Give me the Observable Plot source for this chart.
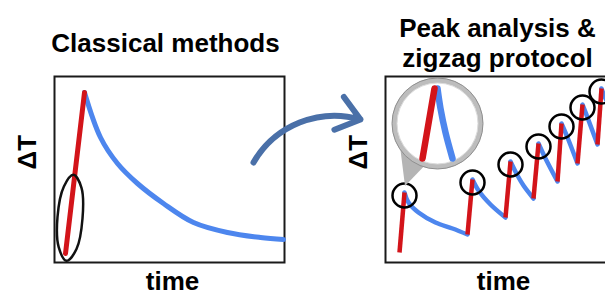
<!DOCTYPE html>
<html><head><meta charset="utf-8">
<script src="https://cdn.jsdelivr.net/npm/d3@7"></script>
<script src="https://cdn.jsdelivr.net/npm/@observablehq/plot@0.6"></script>
<style>
body{margin:0;background:#fff;}
#chart{width:605px;height:295px;overflow:hidden;}
</style></head><body><div id="chart"></div>
<script>
// ---- categories & labels ----
const panels = ["classical", "zigzag"];
const panelTitles = ["Classical methods", "Peak analysis &\nzigzag protocol"];
const xLabel = "time";
const yLabel = "ΔT";

// ---- classical panel: one heating (red) then cooling (blue) ----
const classicalHeatTime = [1.1, 3.0];
const classicalHeatDT = [0.9, 17.0];
const classicalCoolTime = [3.0, 4.6, 6.3, 8.3, 10.9, 13.9, 17.3, 20.6, 22.9];
const classicalCoolDT = [17.0, 12.5, 9.9, 7.9, 5.9, 4.0, 3.0, 2.5, 2.3];
// outline around the initial heating region
const ellipseTime = [1.9, 2.7, 2.8, 2.2, 1.2, 0.42, 0.3, 0.94];
const ellipseDT = [8.77, 7.46, 4.4, 1.35, 0.17, 1.54, 4.55, 7.6];
// curved arrow between panels
const arrowTime = [19.9, 30.6];
const arrowDT = [10.0, 14.3];

// ---- zigzag panel ----
const heatStartTime = [1.4, 8.2, 12.0, 14.8, 17.2, 19.2, 21.2];
const heatStartDT = [1.0, 2.8, 4.5, 6.4, 8.1, 9.9, 11.8];
const peakTime = [1.9, 8.7, 12.5, 15.3, 17.6, 19.7, 21.6];
const peakDT = [7.0, 8.3, 10.1, 11.9, 13.9, 15.8, 17.4];
const coolMidTime = [[2.3, 3.3, 5.0, 6.7], [9.3, 10.5], [13.2, 13.8], [16.0], [18.2], [20.2], [22.0]];
const coolMidDT = [[6.0, 5.0, 4.0, 3.4], [7.2, 5.8], [8.7, 7.7], [10.4], [12.5], [14.5], [16.4]];
const lastCoolTime = 23.4;
const lastCoolDT = 14.0;
// magnifier
const lensTime = [5.2];
const lensDT = [13.9];
const wedgeTime = [1.5, 2.0, 4.5];
const wedgeLowDT = [11.6, 7.6, 10.2];
const wedgeHighDT = [11.6, 11.37, 10.2];
const lensHeatTime = [3.7, 4.9];
const lensHeatDT = [10.4, 17.4];
const lensCoolTime = [5.2, 5.5, 6.0, 6.7];
const lensCoolDT = [17.4, 15.4, 13.0, 10.4];

// ---- styling ----
const RED = "#d3141a";
const BLUE = "#4d86ee";
const ARROW = "#4a70a8";
const FONT = "'Liberation Sans', Arial, Helvetica, sans-serif";

// ---- build tables ----
const rows = (xs, ys, extra) => xs.map((x, i) => ({x, y: ys[i], ...extra}));
const clHeat = rows(classicalHeatTime, classicalHeatDT, {fx: "classical"});
const clCool = rows(classicalCoolTime, classicalCoolDT, {fx: "classical"});
const clEllipse = rows(ellipseTime, ellipseDT, {fx: "classical"});
const arrowRow = [{fx: "classical", x1: arrowTime[0], y1: arrowDT[0], x2: arrowTime[1], y2: arrowDT[1]}];

const rises = heatStartTime.map((t, i) => ({fx: "zigzag", x1: t, y1: heatStartDT[i], x2: peakTime[i], y2: peakDT[i]}));
const decays = [];
peakTime.forEach((t, i) => {
  decays.push({fx: "zigzag", seg: i, x: t, y: peakDT[i]});
  coolMidTime[i].forEach((m, j) => decays.push({fx: "zigzag", seg: i, x: m, y: coolMidDT[i][j]}));
  const endX = i + 1 < heatStartTime.length ? heatStartTime[i + 1] : lastCoolTime;
  const endY = i + 1 < heatStartDT.length ? heatStartDT[i + 1] : lastCoolDT;
  decays.push({fx: "zigzag", seg: i, x: endX, y: endY});
});
const peaks = rows(peakTime, peakDT, {fx: "zigzag"});
const lens = rows(lensTime, lensDT, {fx: "zigzag"});
const wedge = wedgeTime.map((x, i) => ({fx: "zigzag", x, y1: wedgeLowDT[i], y2: wedgeHighDT[i]}));
const lensHeat = rows(lensHeatTime, lensHeatDT, {fx: "zigzag"});
const lensCool = rows(lensCoolTime, lensCoolDT, {fx: "zigzag"});

const textStyle = {fontFamily: FONT, fontWeight: "bold", fontSize: 26, fill: "black", text: d => d};

const chart = Plot.plot({
  width: 605,
  height: 295,
  marginLeft: 54,
  marginRight: -10,
  marginTop: 76,
  marginBottom: 33,
  style: {background: "white", overflow: "hidden", fontFamily: FONT},
  fx: {domain: panels, paddingInner: 101 / 331, paddingOuter: 0, round: false, axis: null, label: null},
  x: {domain: [0, 23], axis: null},
  y: {domain: [0, 18.6], axis: null},
  marks: [
    Plot.frame({stroke: "#1a1a1a", strokeWidth: 2}),
    // titles
    Plot.text([panelTitles[0]], {...textStyle, fx: [panels[0]], frameAnchor: "top", lineAnchor: "bottom", dy: -25, dx: -4}),
    Plot.text([panelTitles[1]], {...textStyle, fx: [panels[1]], frameAnchor: "top", lineAnchor: "bottom", dy: -10, dx: -3, lineHeight: 1.12}),
    // axis labels (repeated in every panel)
    Plot.text([xLabel], {...textStyle, frameAnchor: "bottom", lineAnchor: "bottom", dy: 27, dx: 3}),
    Plot.text([yLabel], {...textStyle, frameAnchor: "left", rotate: -90, lineAnchor: "bottom", dx: -19}),
    // classical panel
    Plot.line(clCool, {x: "x", y: "y", fx: "fx", stroke: BLUE, strokeWidth: 5, curve: "catmull-rom"}),
    Plot.line(clHeat, {x: "x", y: "y", fx: "fx", stroke: RED, strokeWidth: 5}),
    Plot.line(clEllipse, {x: "x", y: "y", fx: "fx", stroke: "#111", strokeWidth: 2.5, curve: "catmull-rom-closed"}),
    Plot.arrow(arrowRow, {x1: "x1", y1: "y1", x2: "x2", y2: "y2", fx: "fx", bend: 38, stroke: ARROW, strokeWidth: 6, headLength: 7, headAngle: 75}),
    // zigzag panel
    Plot.line(decays, {x: "x", y: "y", z: "seg", fx: "fx", stroke: BLUE, strokeWidth: 4.5, curve: "catmull-rom"}),
    Plot.link(rises, {x1: "x1", y1: "y1", x2: "x2", y2: "y2", fx: "fx", stroke: RED, strokeWidth: 4.5}),
    Plot.dot(peaks, {x: "x", y: "y", fx: "fx", r: 12, stroke: "black", strokeWidth: 2.5, fill: "none", dy: 3}),
    // magnifier
    Plot.area(wedge, {x1: "x", y1: "y1", y2: "y2", fx: "fx", fill: "#b4b4b4"}),
    Plot.dot(lens, {x: "x", y: "y", fx: "fx", r: 43, fill: "white", stroke: "#bdbdbd", strokeWidth: 5}),
    Plot.dot(lens, {x: "x", y: "y", fx: "fx", r: 45.5, fill: "none", stroke: "#8e8e8e", strokeWidth: 1}),
    Plot.dot(lens, {x: "x", y: "y", fx: "fx", r: 40.5, fill: "none", stroke: "#dcdcdc", strokeWidth: 1}),
    Plot.line(lensCool, {x: "x", y: "y", fx: "fx", stroke: BLUE, strokeWidth: 6.5, curve: "catmull-rom"}),
    Plot.line(lensHeat, {x: "x", y: "y", fx: "fx", stroke: RED, strokeWidth: 6.5})
  ]
});
document.getElementById("chart").appendChild(chart);
</script></body></html>
